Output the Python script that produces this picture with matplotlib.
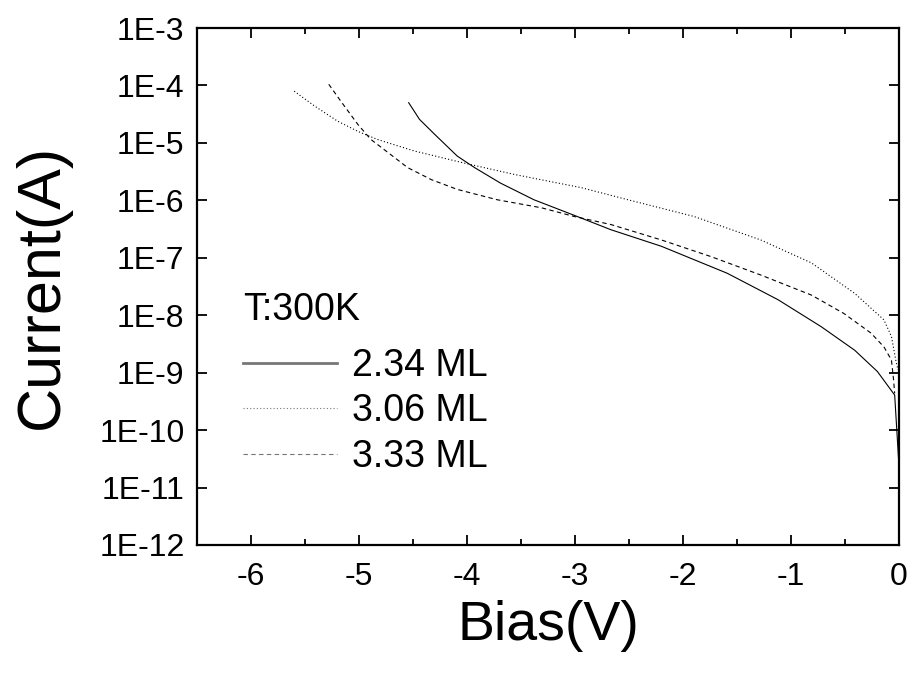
# I-V curves, T = 300K

from matplotlib import pyplot as plt
from matplotlib.ticker import FixedLocator, FuncFormatter, MultipleLocator
import numpy as np

plt.rcParams['font.family'] = ['Liberation Sans', 'DejaVu Sans']

# dane (bias w V, log10 pradu)
bias_234 = [-4.54, -4.44, -4.30, -4.09, -3.93, -3.69, -3.38, -2.94, -2.67, -2.20,
            -1.59, -1.12, -0.72, -0.41, -0.20, -0.04, -0.001]
logi_234 = [-4.30, -4.59, -4.85, -5.23, -5.43, -5.70, -5.99, -6.31, -6.51, -6.80,
            -7.27, -7.73, -8.20, -8.61, -8.98, -9.39, -10.6]

bias_306 = [-5.60, -5.41, -5.20, -5.01, -4.83, -4.49, -4.03, -3.56, -2.94, -2.51,
            -1.90, -1.28, -0.81, -0.41, -0.14, -0.07, -0.03, -0.01]
logi_306 = [-4.10, -4.36, -4.62, -4.80, -4.94, -5.14, -5.35, -5.55, -5.78, -5.99,
            -6.28, -6.69, -7.09, -7.62, -8.08, -8.37, -8.78, -8.95]

bias_333 = [-5.28, -5.17, -5.01, -4.89, -4.73, -4.55, -4.33, -4.09, -3.72, -3.31,
            -3.01, -2.67, -2.20, -1.74, -1.28, -0.81, -0.51, -0.26, -0.14, -0.07,
            -0.05, -0.04]
logi_333 = [-3.98, -4.27, -4.68, -4.94, -5.17, -5.43, -5.64, -5.81, -5.99, -6.13,
            -6.28, -6.42, -6.69, -6.98, -7.30, -7.65, -7.97, -8.31, -8.55, -8.78,
            -9.13, -9.36]

labels = ['2.34 ML', '3.06 ML', '3.33 ML']
y_exps = list(range(-12, -2))

fig = plt.figure(figsize=(9.14, 6.79), dpi=100)
ax = fig.add_axes([197/914, 1 - 545/679, 702/914, 517/679])

lw = 0.8
ax.plot(bias_234, 10.0**np.array(logi_234), color='black', lw=lw, label=labels[0])
ax.plot(bias_306, 10.0**np.array(logi_306), color='black', lw=lw,
        linestyle=(0, (1, 2)), label=labels[1])
ax.plot(bias_333, 10.0**np.array(logi_333), color='black', lw=lw,
        linestyle=(0, (4, 3)), label=labels[2])

ax.set_yscale('log')
ax.set_xlim(-6.5, 0)
ax.set_ylim(1e-12, 1e-3)

# osie i znaczniki
ax.xaxis.set_major_locator(MultipleLocator(1))
ax.xaxis.set_minor_locator(MultipleLocator(0.5))
ax.xaxis.set_major_formatter(FuncFormatter(lambda v, p: '%d' % round(v)))
ax.yaxis.set_major_locator(FixedLocator([10.0**e for e in y_exps]))
ax.yaxis.set_minor_locator(FixedLocator([]))
ax.yaxis.set_major_formatter(FuncFormatter(lambda v, p: '1E%d' % round(np.log10(v))))

ax.tick_params(which='both', direction='in', top=True, right=True, width=1.3)
ax.tick_params(which='major', length=7, labelsize=23)
ax.tick_params(axis='x', which='major', pad=12)
ax.tick_params(axis='y', which='major', pad=9)
ax.tick_params(which='minor', length=4)
for s in ax.spines.values():
    s.set_linewidth(1.6)

ax.set_xlabel('Bias(V)', fontsize=40, labelpad=6)
ax.set_ylabel('Current(A)', fontsize=44, labelpad=20)

# legenda
ax.text(243/914, 1 - 310/679, 'T:300K', transform=fig.transFigure,
        fontsize=27, va='center', ha='left')
leg = ax.legend(loc='upper left', bbox_to_anchor=(243/914, 1 - 348/679),
                bbox_transform=fig.transFigure, frameon=False, fontsize=27,
                handlelength=2.5, handletextpad=0.4, labelspacing=0.25,
                borderpad=0, borderaxespad=0)
for i, h in enumerate(leg.get_lines()):
    h.set_color('#777777')
    if i == 0:
        h.set_linewidth(2)

fig.savefig('out.png', dpi=100)
